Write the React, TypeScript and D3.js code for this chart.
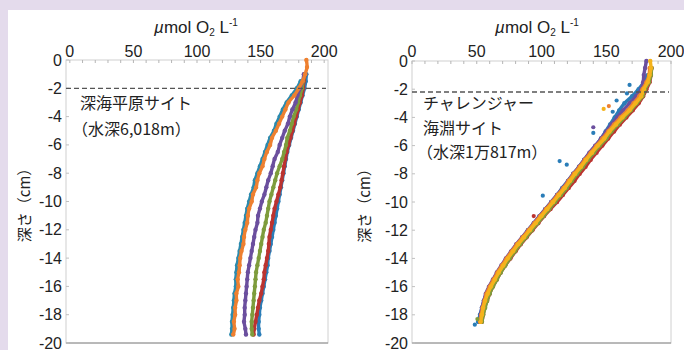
import React from "react";
import * as d3 from "d3";

// ---------- DATA ----------
const xTicks = [0, 50, 100, 150, 200];
const yTicks = [0, -2, -4, -6, -8, -10, -12, -14, -16, -18, -20];
const minorTicks = [0, 10, 20, 30, 40, 50, 60, 70, 80, 90, 100, 110, 120, 130, 140, 150, 160, 170, 180, 190, 200];

const leftDepth = [0, -0.5, -1, -1.5, -2, -2.5, -3, -3.5, -4, -4.5, -5, -5.5, -6, -6.5, -7, -7.5, -8, -8.5, -9, -9.5, -10, -10.5, -11, -11.5, -12, -12.5, -13, -13.5, -14, -14.5, -15, -15.5, -16, -16.5, -17, -17.5, -18, -18.5, -19, -19.4];

const leftBlueB = [null, null, 186, 185.5, 184.5, 183, 181.5, 180, 178.5, 177, 175.5, 174, 172.5, 171, 170, 169, 168, 167, 166, 165, 164, 163, 162, 161, 160, 159, 158, 157, 156, 155.5, 154.5, 153.5, 152.5, 151.5, 150.5, 149.5, 149, 148.5, 148.5, 149];
const leftRed = [null, null, 185, 184, 183.5, 182.5, 181, 179.5, 178, 176.5, 175, 173.5, 172, 170.5, 169.5, 168.5, 167.5, 166.5, 165.5, 164, 162.5, 161, 160, 159, 158, 157, 156.5, 156, 155, 154, 153, 152.5, 151.5, 150.5, 149, 148, 147, 146, 145, 144.5];
const leftGreen = [null, null, 184.5, 183.5, 182.5, 181, 179.5, 178, 176, 174.5, 173, 171, 170, 168.5, 167, 165, 163, 161.5, 160, 158.5, 157, 156, 155, 154, 152.5, 151.5, 150.5, 149.5, 148.5, 147.5, 146.5, 146, 145.5, 145, 144.5, 144, 143.5, 143, 143, 143.5];
const leftPurple = [null, null, 184, 183, 181, 179, 177.5, 175, 173, 171.5, 169, 167, 165, 163.5, 161, 159.5, 158, 156, 154.5, 153, 151, 149.5, 148, 147.5, 146, 145, 144, 143, 142, 141, 140, 139.5, 139, 138.5, 138, 137.5, 137.5, 137, 138, 138.5];
const leftBlueA = [null, null, null, 181.5, 178.5, 174.5, 170.5, 167.5, 165, 162.5, 160.5, 157.5, 155.5, 153.5, 151.5, 149.5, 147.5, 145.5, 144.5, 142.5, 141, 139.5, 138.5, 137.5, 136.5, 135.5, 134.5, 133.5, 132.5, 131.5, 131, 130.5, 130.5, 129.5, 129, 128.5, 128, 127.5, 127.5, 127];
const leftOrange = [186, 186.5, 185, 183, 180, 176.5, 172, 169.5, 167, 164.5, 162, 159, 157.5, 155, 153, 151.5, 149, 147.5, 146.5, 144, 143, 141, 140, 139.5, 138, 137, 136.5, 135, 134, 133.5, 133, 132, 132.5, 131, 131, 130, 130, 129, 129.5, 128.5];

const rightDepth = [0, -0.5, -1, -1.5, -2, -2.5, -3, -3.5, -4, -4.5, -5, -5.5, -6, -6.5, -7, -7.5, -8, -8.5, -9, -9.5, -10, -10.5, -11, -11.5, -12, -12.5, -13, -13.5, -14, -14.5, -15, -15.5, -16, -16.5, -17, -17.5, -18, -18.5];

const rightBlue = [null, null, 182, 179, 175, 170, 164, 160, 156.5, 153, 149.5, 146, 142, 137.5, 133, 129, 124.5, 120.5, 116, 112, 107.5, 103, 98.5, 94, 89.5, 85.5, 81, 77, 73, 69.5, 66, 63, 60, 57.5, 55.5, 54, 52.5, 51];
const rightPurple = [181, 180, 179, 178.5, 177, 173, 168, 163, 158.5, 154, 150, 146, 141.5, 137, 133, 129, 124.5, 120.5, 116.5, 112, 107.5, 103, 98.5, 94, 89.5, 85, 80.5, 76.5, 72.5, 69, 65.5, 62.5, 59.5, 57, 55.5, 54, 53, 52.5];
const rightRed = [null, 185, 184.5, 183.5, 181, 178.5, 175, 170.5, 165.5, 160.5, 156, 151.5, 147, 142.5, 138, 134, 129.5, 125.5, 121, 116.5, 112, 107, 102, 97.5, 93, 88.5, 84, 80, 76, 72, 68.5, 65.5, 62.5, 60, 58, 56, 55, 54];
const rightGreen = [null, 185, 184.5, 183, 180, 178, 173.5, 169, 164, 159, 154, 150, 145, 140.5, 136, 132, 127.5, 123.5, 119.5, 115, 110.5, 106, 101.5, 97, 92.5, 88, 83.5, 79.5, 75.5, 72, 68.5, 65.5, 62.5, 60, 58, 56.5, 55, 54];
const rightOrange = [null, 183.5, 183, 181, 178, 175.5, 171, 166.5, 161, 156, 151.5, 147, 142.5, 138, 133.5, 129.5, 125, 121, 117, 112.5, 108, 103.5, 99, 94.5, 90, 85.5, 81, 77, 73, 69.5, 66, 63, 60, 57.5, 56, 54.5, 53.5, 52.5];
const rightYellow = [184, 184.5, 183.5, 182, 179, 177, 172.5, 168, 162.5, 157.5, 152.5, 148.5, 143.5, 139, 134.5, 130.5, 126, 122, 118, 113.5, 109, 104.5, 100, 95.5, 91, 86.5, 82, 78, 74, 70.5, 67, 64, 61, 58.5, 56.5, 55, 54, 53];

const rightOutDepth = [-1.7, -2.3, -2.8, -3.6, -3.4, -3.2, -4.7, -5.1, -7.1, -7.35, -9.55, -11.0, -18.7, -18.3];
const rightOutValue = [168, 166, 158, 155, 148, 152, 140, 140, 114, 119.5, 101, 94, 48.5, 50.5];
const rightOutColor = ["blue", "blue", "blue", "blue", "yellow", "orange", "purple", "blue", "blue", "blue", "blue", "red", "blue", "green"];

const leftDashedDepth = -2.0;
const rightDashedDepth = -2.2;

const COLORS: Record<string, string> = {
  blue: "#2a7db8",
  teal: "#2b8aae",
  orange: "#ee8030",
  purple: "#6b4f9e",
  green: "#7e9c3c",
  red: "#bb3330",
  yellow: "#f5b31c",
};

type Series = { color: string; values: (number | null)[] };

const leftSeries: Series[] = [
  { color: "blue", values: leftBlueB },
  { color: "red", values: leftRed },
  { color: "green", values: leftGreen },
  { color: "purple", values: leftPurple },
  { color: "teal", values: leftBlueA },
  { color: "orange", values: leftOrange },
];

const rightSeries: Series[] = [
  { color: "blue", values: rightBlue },
  { color: "purple", values: rightPurple },
  { color: "red", values: rightRed },
  { color: "green", values: rightGreen },
  { color: "orange", values: rightOrange },
  { color: "yellow", values: rightYellow },
];

const TICK_FONT = "'Liberation Sans', Arial, Helvetica, sans-serif";
const JP_FONT = "'Noto Sans CJK JP', 'Noto Sans', sans-serif";

function Panel(props: {
  x0: number; x1: number; y0: number; y1: number;
  xDomain: [number, number];
  depth: number[]; series: Series[];
  dashed: number;
  titleX: number; ylabelX: number;
  outliers?: { d: number; v: number; c: string }[];
}) {
  const { x0, x1, y0, y1, xDomain, depth, series, dashed, titleX, ylabelX, outliers } = props;
  const x = d3.scaleLinear().domain(xDomain).range([x0, x1]);
  const y = d3.scaleLinear().domain([0, -20]).range([y0, y1]);
  const line = d3
    .line<[number, number | null]>()
    .defined((p) => p[1] != null)
    .x((p) => x(p[1] as number))
    .y((p) => y(p[0]))
    .curve(d3.curveCatmullRom);

  return (
    <g>
      {/* title */}
      <text x={titleX} y={33} textAnchor="middle" fontFamily={TICK_FONT} fontSize={17} fill="#222">
        <tspan fontStyle="italic">µ</tspan>
        <tspan>mol O</tspan>
        <tspan fontSize={10} dy={3}>2</tspan>
        <tspan dy={-3}> L</tspan>
        <tspan fontSize={10} dy={-7}>-1</tspan>
      </text>
      {/* frame */}
      <rect x={x0} y={y0} width={x1 - x0} height={y1 - y0} fill="#fff" stroke="#d0d0d0" strokeWidth={1} />
      <line x1={x0} x2={x1} y1={y1} y2={y1} stroke="#8a8a8a" strokeWidth={1.2} />
      {minorTicks.map((t) => (
        <line key={"mt" + t} x1={x(t)} x2={x(t)} y1={y0} y2={y0 + 3} stroke="#b5b5b5" strokeWidth={1} />
      ))}
      {yTicks.map((t) => (
        <line key={"yt" + t} x1={x0} x2={x0 + 3} y1={y(t)} y2={y(t)} stroke="#c0c0c0" strokeWidth={1} />
      ))}
      {/* tick labels */}
      {xTicks.map((t) => (
        <text key={"xl" + t} x={x(t)} y={57} textAnchor="middle" fontFamily={TICK_FONT} fontSize={16} fill="#222">
          {t}
        </text>
      ))}
      {yTicks.map((t) => (
        <text key={"yl" + t} x={x0 - 4} y={y(t) + 5.5} textAnchor="end" fontFamily={TICK_FONT} fontSize={16} fill="#222">
          {t}
        </text>
      ))}
      {/* y label */}
      <text
        transform={`translate(${ylabelX},${(y0 + y1) / 2}) rotate(-90)`}
        textAnchor="middle"
        fontFamily={JP_FONT}
        fontSize={15}
        fill="#222"
      >
        深さ（cm）
      </text>
      {/* series */}
      {series.map((s, i) => {
        const pts: [number, number | null][] = depth.map((d, j) => [d, s.values[j]]);
        return (
          <g key={"s" + i}>
            <path d={line(pts) || ""} fill="none" stroke={COLORS[s.color]} strokeWidth={3.4} strokeLinecap="round" strokeLinejoin="round" />
            {pts
              .filter((p) => p[1] != null)
              .map((p, j) => (
                <circle key={j} cx={x(p[1] as number)} cy={y(p[0])} r={2.2} fill={COLORS[s.color]} />
              ))}
          </g>
        );
      })}
      {outliers &&
        outliers.map((o, i) => (
          <circle key={"o" + i} cx={x(o.v)} cy={y(o.d)} r={2.1} fill={COLORS[o.c]} />
        ))}
      {/* dashed interface line */}
      <line x1={x0} x2={x1 - 2} y1={y(dashed)} y2={y(dashed)} stroke="#555" strokeWidth={1.3} strokeDasharray="5,3" />
    </g>
  );
}

export default function App() {
  const outliers = rightOutDepth.map((d, i) => ({ d, v: rightOutValue[i], c: rightOutColor[i] }));
  return (
    <svg width={684} height={350} style={{ position: "absolute", left: 0, top: 0 }}>
      <rect x={0} y={0} width={684} height={350} fill="#e4dbec" />
      <rect x={8} y={10} width={676} height={340} fill="#ffffff" />
      <Panel
        x0={66} x1={328} y0={60} y1={343}
        xDomain={[-3, 203]}
        depth={leftDepth}
        series={leftSeries}
        dashed={leftDashedDepth}
        titleX={196}
        ylabelX={30}
      />
      <Panel
        x0={412} x1={671} y0={61} y1={343}
        xDomain={[0, 200]}
        depth={rightDepth}
        series={rightSeries}
        dashed={rightDashedDepth}
        titleX={537}
        ylabelX={370}
        outliers={outliers}
      />
      <g fontFamily={JP_FONT} fontSize={16} fill="#222">
        <text x={80} y={109}>深海平原サイト</text>
        <text x={72} y={135}>（水深6,018m）</text>
        <text x={423} y={109}>チャレンジャー</text>
        <text x={423} y={134}>海淵サイト</text>
        <text x={417} y={158}>（水深1万817m）</text>
      </g>
    </svg>
  );
}
